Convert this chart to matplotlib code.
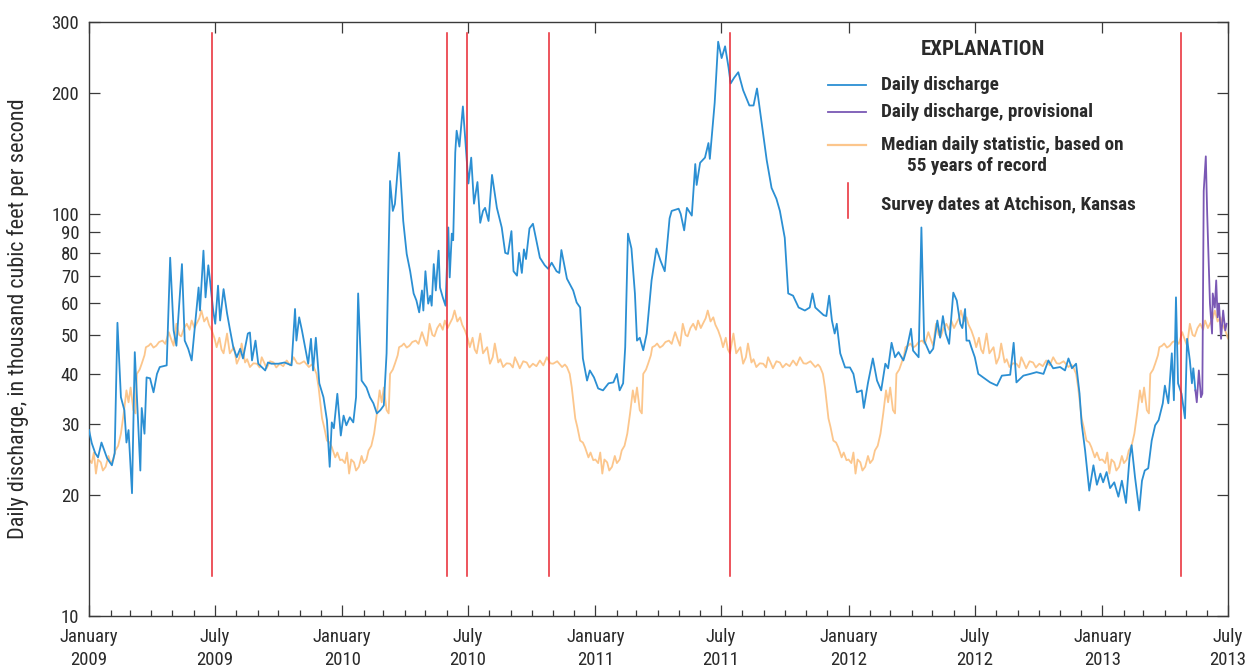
import numpy as np
import matplotlib
matplotlib.use("Agg")
import matplotlib.pyplot as plt
import matplotlib.dates as mdates
from matplotlib.ticker import FixedLocator, FuncFormatter, NullLocator

plt.rcParams['font.family'] = ['Roboto Condensed', 'Liberation Sans', 'DejaVu Sans']

start = np.datetime64('2009-01-01')
end = np.datetime64('2013-07-01')

# daily discharge, approved record (days since 2009-01-01, thousand ft3/s)
q_day = [0, 4, 9, 13, 18, 26, 33, 37, 41, 46,
         51, 54, 57, 62, 66, 70, 74, 76, 80, 83,
         88, 93, 98, 102, 112, 117, 122, 126, 134, 138,
         143, 148, 153, 158, 160, 165, 168, 172, 174, 179,
         182, 186, 189, 194, 199, 203, 208, 213, 218, 222,
         229, 232, 235, 240, 244, 254, 258, 263, 273, 282,
         292, 297, 299, 303, 307, 316, 320, 323, 327, 332,
         338, 343, 347, 350, 353, 358, 363, 367, 371, 376,
         381, 385, 388, 393, 400, 405, 410, 415, 420, 425,
         429, 434, 438, 441, 447, 453, 458, 463, 468, 472,
         476, 480, 482, 485, 489, 492, 494, 497, 500, 504,
         506, 510, 514, 518, 520, 523, 525, 528, 530, 534,
         539, 547, 551, 555, 560, 564, 568, 571, 576, 581,
         588, 595, 600, 604, 609, 612, 617, 620, 624, 627,
         630, 635, 640, 645, 650, 657, 662, 667, 674, 678,
         681, 689, 693, 698, 703, 708, 712, 718, 722, 728,
         734, 741, 749, 756, 761, 765, 770, 773, 777, 782,
         787, 790, 794, 799, 804, 811, 818, 824, 830, 837,
         840, 850, 853, 858, 862, 869, 874, 876, 881, 888,
         893, 895, 900, 902, 907, 912, 917, 922, 925, 930,
         936, 943, 952, 958, 963, 970, 977, 984, 991, 996,
         1003, 1008, 1015, 1023, 1032, 1039, 1043, 1047, 1059, 1063,
         1067, 1071, 1075, 1078, 1083, 1090, 1097, 1102, 1107, 1114,
         1117, 1123, 1130, 1136, 1142, 1148, 1152, 1157, 1162, 1167,
         1174, 1179, 1185, 1188, 1196, 1200, 1204, 1212, 1217, 1223,
         1227, 1231, 1235, 1240, 1246, 1251, 1256, 1259, 1263, 1265,
         1269, 1272, 1277, 1282, 1289, 1299, 1309, 1316, 1328, 1333,
         1337, 1347, 1357, 1366, 1376, 1383, 1390, 1400, 1407, 1412,
         1417, 1423, 1428, 1431, 1436, 1442, 1448, 1453, 1458, 1462,
         1467, 1472, 1478, 1484, 1489, 1495, 1500, 1503, 1508, 1514,
         1518, 1522, 1527, 1532, 1537, 1542, 1548, 1551, 1556, 1561,
         1564, 1567, 1570, 1575, 1580, 1583, 1587, 1590, 1592, 1595]
q_val = [29, 26.9, 25.4, 24.8, 27, 24.7, 23.7, 25.4, 53.6, 35,
         32.5, 27, 29, 20.2, 45.3, 32.5, 23, 32.9, 28.4, 39.2,
         39, 36, 40, 41.6, 42, 77.8, 51.3, 47, 75, 48.4,
         46.2, 43.2, 53.3, 65.6, 57.5, 81, 62, 74.5, 69.5, 57.5,
         53.3, 66.3, 54.3, 65, 56.6, 51.8, 46.6, 44, 46.2, 43.7,
         50.4, 50.7, 43.2, 48.4, 42.4, 40.8, 42.7, 42.4, 42.4, 42.7,
         42, 58, 48.4, 55.3, 51.3, 42.4, 48.9, 40.8, 49.2, 37.9,
         35, 30.7, 23.5, 30.3, 29.3, 35.7, 28.1, 31.5, 29.8, 31.2,
         30.3, 35, 63.4, 38.5, 37, 35, 33.8, 31.9, 32.5, 33.4,
         45, 120.7, 101.7, 105.8, 142, 96, 79.5, 72, 63.4, 60.9,
         56.9, 64.5, 57.5, 72, 59.8, 62.6, 59.1, 75, 64.5, 81,
         65.6, 62, 59.1, 92.5, 69.5, 89.3, 86, 142, 161, 147,
         185, 119, 138, 106, 120, 95, 101.7, 103.5, 96, 125,
         103.5, 92.5, 80, 79.5, 90.6, 72, 70.2, 80, 71.3, 81.6,
         77.2, 92, 94.5, 85.8, 77.8, 74.5, 73, 75.6, 72, 71.3,
         81.3, 69, 67, 64.5, 60.2, 58.5, 43.7, 38.5, 40.8, 39.2,
         36.8, 36.4, 37.9, 38.1, 40, 36.4, 37.9, 46.6, 89.3, 82,
         63.4, 48.4, 49.2, 45.8, 50.4, 68.3, 82, 76.4, 72, 97.5,
         101.7, 103, 100, 91, 103.5, 99, 133, 118, 134, 138,
         150, 137, 172, 189, 268, 244, 261, 231, 211, 218,
         225, 203, 186, 186, 205, 167, 136, 116, 109, 101.7,
         87.2, 63.4, 62.6, 58.5, 57.5, 58.5, 63.4, 58.5, 56, 55.7,
         62.6, 54.3, 50.4, 53.3, 45, 41.5, 41.5, 40, 36, 36.4,
         32.9, 38, 43.7, 38.5, 36.4, 42.4, 41.3, 47.8, 44, 45.3,
         43.2, 46.2, 51.8, 45.7, 44, 92.5, 48.4, 45, 46.2, 54.3,
         49.2, 55.7, 50.4, 47.5, 63.7, 60.9, 53.3, 52, 58, 48.4,
         48.4, 46.6, 44, 40, 39.2, 38.1, 37.4, 39.6, 39.8, 47.8,
         38.1, 39.6, 40, 40.4, 40, 43.2, 41.3, 41.6, 40.8, 43.7,
         41.3, 42.4, 35.7, 30.1, 25.8, 20.5, 23.7, 21.2, 22.6, 21.5,
         22.8, 20.8, 21.5, 19.8, 21.7, 19.1, 24.7, 26.6, 22.1, 18.3,
         21.7, 23, 23.3, 27.3, 29.8, 30.7, 33.8, 37.4, 33.8, 45,
         34.4, 62, 37.9, 35.7, 31, 48.9, 43.2, 37.9, 41.3, 36.4]

# provisional record at the end of the period
p_day = [1595, 1597, 1600, 1603, 1605, 1607, 1610, 1612, 1616, 1619,
         1620, 1623, 1625, 1627, 1629, 1632, 1635, 1638, 1640]
p_val = [36.4, 34, 40.8, 35, 35.7, 114, 139, 100, 59.8, 50.4,
         63.4, 58.5, 68.3, 55.3, 59.8, 48.9, 57.5, 51.3, 53.3]

# median daily statistic, by day of year
med_doy = [0, 4, 7, 10, 13, 17, 20, 24, 28, 31,
           35, 38, 42, 46, 50, 54, 57, 60, 64, 67,
           69, 73, 76, 80, 82, 86, 89, 93, 97, 101,
           106, 110, 115, 119, 122, 126, 130, 133, 137, 141,
           145, 148, 152, 155, 159, 162, 166, 170, 173, 177,
           181, 184, 188, 191, 194, 199, 203, 209, 213, 217,
           220, 225, 228, 232, 237, 242, 246, 249, 253, 256,
           261, 266, 270, 275, 280, 285, 290, 295, 300, 304,
           310, 317, 321, 324, 328, 331, 333, 336, 339, 343,
           347, 350, 355, 358, 362, 365]
med_val = [24.5, 24, 25.5, 22.6, 24.5, 24.1, 23, 23.5, 25, 24,
           24.5, 25.8, 26.5, 28.4, 31.9, 36.4, 34, 37, 32.5, 31.9,
           40, 41, 42.4, 44.5, 46.6, 47, 47.6, 46.5, 47, 48,
           48.4, 47.5, 50.8, 48.5, 47, 53.3, 50, 49.6, 52, 53.3,
           51.5, 54.3, 52, 53.3, 55, 57.5, 54, 55.3, 53, 51.3,
           49, 46.6, 49.2, 46, 45, 50.4, 45, 46.6, 42.4, 44,
           47.6, 42.7, 43.5, 41.6, 42.5, 42.4, 41.5, 44, 42.5, 41.3,
           43, 42.7, 41.5, 42.4, 41.8, 43.2, 42, 44, 42.5, 42.4,
           43, 41.6, 42.2, 41.6, 40, 37, 34.4, 31, 29.5, 27.3,
           27, 26.3, 24.8, 25.5, 24.4, 24.5]

survey_dates = ['2009-06-28', '2010-06-01', '2010-06-30',
                '2010-10-26', '2011-07-14', '2013-04-24']

y_ticks = [10, 20, 30, 40, 50, 60, 70, 80, 90, 100, 200, 300]

c_blue = '#2b8fd3'
c_prov = '#7a58b4'
c_med = '#fcc68c'
c_red = '#e82630'
c_axis = '#3a3a3a'

q_dates = start + np.array(q_day).astype('timedelta64[D]')
p_dates = start + np.array(p_day).astype('timedelta64[D]')

# repeat the day-of-year median over each calendar year on the plot
med_dates = []
med_q = []
for yr in range(2009, 2014):
    d0 = np.datetime64(f'{yr}-01-01')
    for d, v in zip(med_doy, med_val):
        t = d0 + np.timedelta64(d, 'D')
        if t <= end:
            med_dates.append(t)
            med_q.append(v)
med_dates = np.array(med_dates)

fig = plt.figure(figsize=(12.56, 6.69), dpi=100)
ax = fig.add_axes([89 / 1256, 53 / 669, 1139 / 1256, 594 / 669])

ax.plot(med_dates, med_q, color=c_med, lw=1.3, zorder=2)
ax.plot(q_dates, q_val, color=c_blue, lw=1.3, zorder=3)
ax.plot(p_dates, p_val, color=c_prov, lw=1.3, zorder=3)
for s in survey_dates:
    ax.axvline(np.datetime64(s), ymin=0.067, ymax=0.981, color=c_red, lw=1.1, zorder=4)

ax.set_yscale('log')
ax.set_ylim(10, 300)
ax.set_xlim(start, end)
ax.yaxis.set_major_locator(FixedLocator(y_ticks))
ax.yaxis.set_major_formatter(FuncFormatter(lambda v, p: f'{v:g}'))
ax.yaxis.set_minor_locator(NullLocator())

ax.xaxis.set_major_locator(mdates.MonthLocator(bymonth=[1, 7]))
ax.xaxis.set_minor_locator(mdates.MonthLocator())
ax.xaxis.set_major_formatter(FuncFormatter(lambda v, p: mdates.num2date(v).strftime('%B\n%Y')))

ax.tick_params(which='both', direction='in', top=True, right=True,
               color=c_axis, labelcolor='#2a2a2a', labelsize=13.5)
ax.tick_params(which='major', length=8, width=0.9)
ax.tick_params(which='minor', length=4, width=0.9, top=False)
ax.tick_params(axis='x', pad=9)
ax.tick_params(axis='y', pad=7)
for t in ax.xaxis.get_major_ticks():
    t.label1.set_linespacing(1.3)
for sp in ax.spines.values():
    sp.set_color(c_axis)
    sp.set_linewidth(1.0)

ax.set_ylabel('Daily discharge, in thousand cubic feet per second',
              fontsize=16, color='#2a2a2a', labelpad=16)

# explanation box
tr = ax.transAxes
bold = dict(fontweight='bold', color='#2a2a2a', transform=tr, va='center')
ax.text(0.785, 0.953, 'EXPLANATION', fontsize=15, ha='center', **bold)
ax.plot([0.649, 0.682], [0.894, 0.894], color=c_blue, lw=1.3, transform=tr)
ax.text(0.695, 0.894, 'Daily discharge', fontsize=13.8, **bold)
ax.plot([0.649, 0.682], [0.848, 0.848], color=c_prov, lw=1.3, transform=tr)
ax.text(0.695, 0.848, 'Daily discharge, provisional', fontsize=13.8, **bold)
ax.plot([0.649, 0.682], [0.793, 0.793], color=c_med, lw=1.6, transform=tr)
ax.text(0.695, 0.793, 'Median daily statistic, based on', fontsize=13.8, **bold)
ax.text(0.718, 0.758, '55 years of record', fontsize=13.8, **bold)
ax.plot([0.666, 0.666], [0.670, 0.729], color=c_red, lw=1.1, transform=tr)
ax.text(0.695, 0.692, 'Survey dates at Atchison, Kansas', fontsize=13.8, **bold)

fig.savefig('out.png', dpi=100)
